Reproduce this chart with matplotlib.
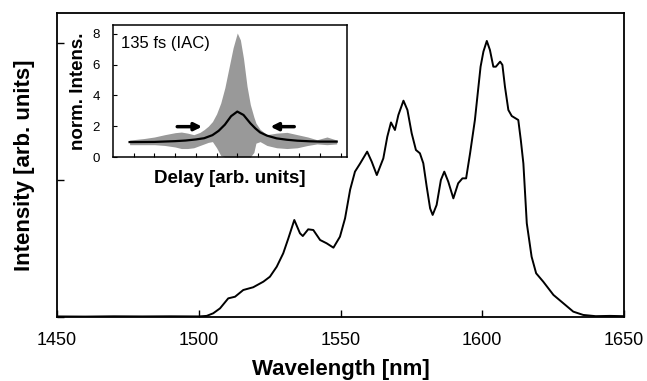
import matplotlib
matplotlib.use("Agg")
import matplotlib.pyplot as plt

plt.rcParams['font.family'] = ['Liberation Sans', 'DejaVu Sans']

# spectrum: wavelength (nm) and intensity (arb. units)
wl = [1450, 1460, 1470, 1480, 1490, 1500, 1502.8, 1505.1, 1507.5, 1510.4, 1512.8,
      1515.7, 1519.2, 1522.8, 1525.1, 1527.5, 1529.8, 1531.6, 1533.7, 1535.7,
      1536.7, 1538.6, 1540.4, 1542.8, 1545.1, 1547.5, 1549.8, 1551.6, 1553.4,
      1555.1, 1556.9, 1559.4, 1561.0, 1562.8, 1565.1, 1566.5, 1567.8, 1569.2,
      1570.4, 1572.2, 1573.6, 1575.1, 1576.6, 1578.0, 1579.2, 1580.4, 1581.6,
      1582.5, 1583.9, 1585.4, 1586.6, 1588.0, 1589.8, 1591.5, 1593.0, 1594.3,
      1595.7, 1597.4, 1598.4, 1599.4, 1600.4, 1601.6, 1602.7, 1603.9, 1604.8,
      1606.3, 1607.1, 1608.0, 1609.2, 1610.4, 1612.7, 1613.6, 1614.5, 1615.7,
      1617.4, 1619.0, 1621.5, 1625.1, 1628.6, 1632.1, 1635.6, 1640, 1645, 1650]
inten = [0.004, 0.003, 0.005, 0.004, 0.005, 0.004, 0.008, 0.027, 0.063, 0.136, 0.148,
         0.197, 0.217, 0.258, 0.294, 0.367, 0.465, 0.574, 0.708, 0.611,
         0.591, 0.640, 0.635, 0.562, 0.538, 0.506, 0.586, 0.720, 0.930,
         1.061, 1.120, 1.207, 1.134, 1.036, 1.158, 1.316, 1.420, 1.365,
         1.474, 1.579, 1.511, 1.341, 1.219, 1.195, 1.122, 0.951, 0.793,
         0.745, 0.818, 1.000, 1.061, 0.988, 0.866, 0.976, 1.012, 1.012,
         1.195, 1.438, 1.633, 1.827, 1.937, 2.015, 1.949, 1.827, 1.827,
         1.864, 1.840, 1.681, 1.511, 1.467, 1.438, 1.290, 1.120, 0.684,
         0.440, 0.319, 0.258, 0.161, 0.100, 0.039, 0.015, 0.006, 0.008, 0.006]

# autocorrelation: fringe envelope and background-corrected average
delay = [-5.2, -4.5, -4.0, -3.5, -3.0, -2.7, -2.4, -2.1, -1.8, -1.6, -1.4, -1.2,
         -1.0, -0.8, -0.6, -0.4, -0.2, 0.0, 0.15, 0.3, 0.47, 0.63, 0.8, 0.9,
         1.1, 1.43, 1.9, 2.4, 2.9, 3.4, 3.85, 4.33, 4.8]
iac_upper = [1.1, 1.2, 1.3, 1.45, 1.58, 1.62, 1.55, 1.45, 1.6, 1.78, 2.0, 2.3,
             2.8, 3.5, 4.5, 5.8, 7.1, 8.05, 7.6, 6.4, 4.6, 3.4, 2.6, 2.2,
             1.8, 1.45, 1.55, 1.6, 1.45, 1.3, 1.12, 1.3, 1.1]
iac_lower = [0.8, 0.8, 0.8, 0.75, 0.65, 0.55, 0.55, 0.6, 0.75, 0.85, 0.95, 1.0,
             0.6, 0.1, 0.0, 0.0, 0.0, 0.0, 0.0, 0.0, 0.0, 0.0, 0.3, 0.9,
             1.0, 0.75, 0.6, 0.55, 0.6, 0.75, 0.85, 0.8, 0.85]
ac_delay = [-5.2, -4.0, -3.0, -2.5, -2.0, -1.6, -1.2, -0.9, -0.6, -0.3, 0.0, 0.3,
            0.63, 0.87, 1.1, 1.43, 1.9, 2.4, 2.9, 3.5, 4.0, 4.8]
ac = [0.97, 0.98, 1.03, 1.07, 1.14, 1.22, 1.42, 1.7, 2.1, 2.65, 2.95, 2.73,
      2.19, 1.86, 1.6, 1.39, 1.21, 1.12, 1.06, 1.02, 1.0, 1.0]

fig = plt.figure(figsize=(6.47, 3.81), dpi=100)

ax = fig.add_axes([0.0881, 0.168, 0.8764, 0.7979])
ax.plot(wl, inten, color='black', lw=1.4)
ax.set_xlim(1450, 1650)
ax.set_ylim(0, 2.219)
ax.set_xticks([1450, 1500, 1550, 1600, 1650])
ax.set_yticks([0, 1, 2])
ax.tick_params(axis='y', labelleft=False)
ax.tick_params(direction='in', length=5, width=1, labelsize=13, pad=11)
for s in ax.spines.values():
    s.set_linewidth(1.3)
ax.set_xlabel('Wavelength [nm]', fontsize=16, fontweight='bold', labelpad=7)
ax.set_ylabel('Intensity [arb. units]', fontsize=16, fontweight='bold', labelpad=16)

# inset with the autocorrelation trace
ins = fig.add_axes([0.1747, 0.5879, 0.3617, 0.3465])
ins.fill_between(delay, iac_lower, iac_upper, color='#999999', lw=0)
ins.plot(ac_delay, ac, color='black', lw=1.6)
ins.set_xlim(-6.0, 5.3)
ins.set_ylim(0, 8.57)
ins.set_xticks(range(-5, 6))
ins.tick_params(axis='x', labelbottom=False)
ins.set_yticks([0, 2, 4, 6, 8])
ins.tick_params(direction='in', length=3, width=0.8, labelsize=9.5, pad=9.5)
for s in ins.spines.values():
    s.set_linewidth(1.1)
ins.set_xlabel('Delay [arb. units]', fontsize=13.5, fontweight='bold', labelpad=9)
ins.set_ylabel('norm. Intens.', fontsize=13.5, fontweight='bold', labelpad=4)
ins.text(0.035, 0.92, '135 fs (IAC)', transform=ins.transAxes, fontsize=12,
         ha='left', va='top')

arrow = dict(arrowstyle='-|>', color='black', lw=2.5, mutation_scale=11,
             shrinkA=0, shrinkB=0)
ins.annotate('', xy=(-1.7, 1.97), xytext=(-2.9, 1.97), arrowprops=arrow)
ins.annotate('', xy=(1.6, 1.97), xytext=(2.75, 1.97), arrowprops=arrow)

fig.savefig('out.png', dpi=100)
